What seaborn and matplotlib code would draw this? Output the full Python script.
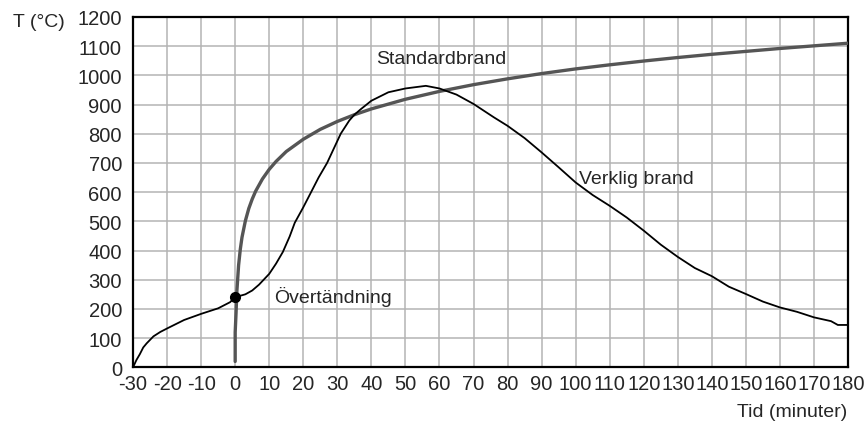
import numpy as np
import pandas as pd
import seaborn as sns
import matplotlib.pyplot as plt
from matplotlib import font_manager

# Standardbrand
std_time = [0, 0, 0.25, 0.5, 1, 1.5, 2, 3, 4, 5, 6, 8, 10, 12, 15, 20, 25, 30, 35, 40, 50,
            60, 70, 80, 90, 100, 110, 120, 130, 140, 150, 160, 170, 180]
std_temp = [20, 120, 185, 261, 349, 404, 445, 502, 544, 576, 603, 645, 678, 705, 739, 781, 815,
            842, 865, 885, 918, 945, 968, 988, 1006, 1022, 1036, 1049, 1061, 1072, 1082, 1092,
            1101, 1110]

# Verklig brand
real_time = [-30, -29, -28, -27, -26, -24, -22, -20, -15, -10, -5, -1.5, 0, 3, 5, 7, 10, 12, 14,
             16, 17.5, 20, 22.3, 24.5, 27, 29, 31, 33.5, 35, 37, 40, 45, 50, 56, 60, 65, 70, 76,
             80, 85, 90, 95, 100, 105, 110, 115, 120, 125, 130, 135, 140, 145, 150, 155, 160,
             165, 170, 175, 177, 180]
real_temp = [0, 25, 45, 68, 82, 106, 121, 133, 162, 183, 202, 223, 240, 250, 263, 283, 320, 355,
             395, 448, 495, 548, 600, 650, 700, 750, 800, 845, 865, 885, 913, 942, 955, 964, 955,
             934, 902, 856, 827, 785, 736, 685, 633, 590, 553, 513, 468, 420, 378, 340, 312, 276,
             251, 225, 205, 190, 171, 158, 145, 145]

flashover = (0, 240)

x_ticks = list(range(-30, 181, 10))
y_ticks = list(range(0, 1201, 100))

sns.set_style("white")
plt.rcParams['font.family'] = ['Liberation Sans', 'DejaVu Sans']
plt.rcParams['axes.unicode_minus'] = False

names = {f.name for f in font_manager.fontManager.ttflist}
tick_font = 'Liberation Sans Narrow' if 'Liberation Sans Narrow' in names else 'Liberation Sans'

fig = plt.figure(figsize=(8.65, 4.27), dpi=100)
ax = fig.add_axes([0.1538, 0.1375, 0.8266, 0.8205])

std_df = pd.DataFrame({'t': std_time, 'T': std_temp})
real_df = pd.DataFrame({'t': real_time, 'T': real_temp})

sns.lineplot(data=std_df, x='t', y='T', ax=ax, color='#555555', linewidth=2.4,
             estimator=None, sort=False, zorder=3)
sns.lineplot(data=real_df, x='t', y='T', ax=ax, color='black', linewidth=1.3,
             estimator=None, sort=False, zorder=4)
ax.plot([flashover[0]], [flashover[1]], 'o', color='black', markersize=7, zorder=5)

ax.set_xlim(-30, 180)
ax.set_ylim(0, 1200)
ax.set_xticks(x_ticks)
ax.set_yticks(y_ticks)
ax.grid(True, color='#b4b4b4', linewidth=1.1)
ax.set_axisbelow(True)
for s in ax.spines.values():
    s.set_color('black')
    s.set_linewidth(1.6)
ax.tick_params(length=0, labelsize=14.5)
ax.tick_params(axis='y', pad=8)
ax.tick_params(axis='x', pad=5)
for lab in ax.get_xticklabels() + ax.get_yticklabels():
    lab.set_family(tick_font)
ax.set_xlabel('')
ax.set_ylabel('')

ax.text(41.5, 1056, 'Standardbrand', fontsize=14, ha='left', va='center')
ax.text(101, 645, 'Verklig brand', fontsize=14, ha='left', va='center')
ax.text(11.3, 245, 'Övertändning', fontsize=14, ha='left', va='center')

fig.text(0.015, 0.948, 'T (°C)', fontsize=14, ha='left', va='center')
fig.text(0.980, 0.033, 'Tid (minuter)', fontsize=14, ha='right', va='center')

fig.savefig('out.png', dpi=100)
